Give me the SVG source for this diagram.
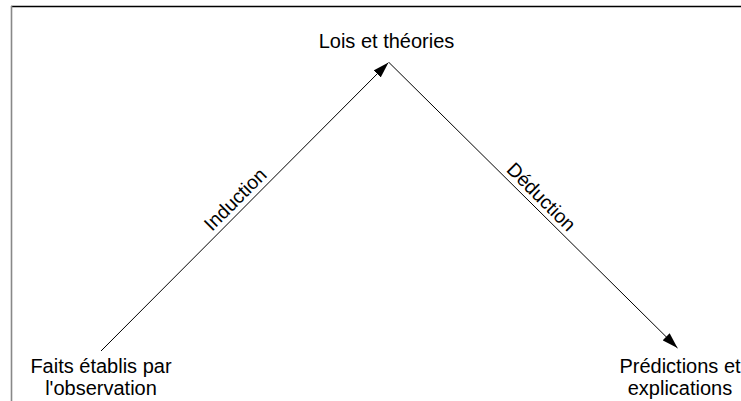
<svg xmlns="http://www.w3.org/2000/svg" width="741" height="401" viewBox="0 0 741 401">
<defs>
<marker id="ah" viewBox="0 0 16 10" refX="16" refY="5" markerWidth="16" markerHeight="10" markerUnits="userSpaceOnUse" orient="auto">
<path d="M0,0 L16,5 L0,10 Z" fill="#000"/>
</marker>
</defs>
<style>
text{font-family:"Liberation Sans",Arial,sans-serif;font-size:20px;fill:#000;text-anchor:middle}
.lbl{font-size:19.5px}
.c{stroke:#000;stroke-width:1;fill:none;marker-end:url(#ah)}
</style>
<rect width="741" height="401" fill="#fff"/>
<g id="frame">
<line x1="11" y1="6.5" x2="741" y2="6.5" stroke="#000" stroke-width="1.5"/>
<line x1="11.5" y1="6" x2="11.5" y2="401" stroke="#888" stroke-width="1.6"/>
</g>
<g id="connectors">
<line class="c" x1="101" y1="351" x2="388.5" y2="62.5"/>
<line class="c" x1="389" y1="62.5" x2="677.5" y2="348"/>
<text class="lbl" transform="translate(243.5,207.5) rotate(-45)" y="-5">Induction</text>
<text class="lbl" transform="translate(533,205) rotate(45)" y="-5">Déduction</text>
</g>
<g id="lois">
<text x="386.5" y="48">Lois et théories</text>
</g>
<g id="faits">
<text x="101" y="373">Faits établis par</text>
<text x="101" y="395">l'observation</text>
</g>
<g id="predictions">
<text x="680" y="373">Prédictions et</text>
<text x="680" y="395">explications</text>
</g>
</svg>
